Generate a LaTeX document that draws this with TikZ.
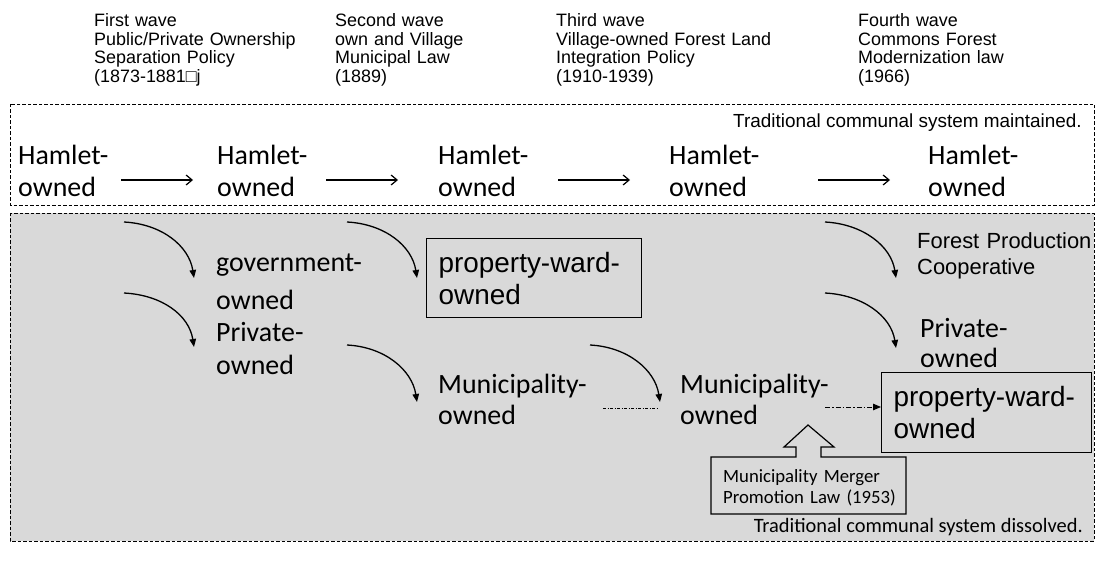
\documentclass[tikz,border=0pt]{standalone}
\usepackage{fontspec}
\setmainfont{Liberation Sans}
\newfontfamily\calfont{Carlito}
\usetikzlibrary{arrows.meta}
\definecolor{panelgray}{HTML}{D9D9D9}
\begin{document}
\begin{tikzpicture}[x=1bp,y=-1bp,
  hdr/.style={anchor=base west, inner sep=0, text width=250bp, align=left, font=\fontsize{18}{18.5}\selectfont},
  big/.style={anchor=base west, inner sep=0, text width=190bp, align=left, font=\calfont\fontsize{28}{32}\selectfont},
  mid/.style={anchor=base west, inner sep=0, text width=190bp, align=left, font=\fontsize{22}{26}\selectfont},
  wardbox/.style={draw, line width=1.3bp, anchor=north west, inner xsep=12bp, inner ysep=2bp, align=left, font=\fontsize{28}{32}\selectfont},
  dashbox/.style={draw, line width=0.8bp, dash pattern=on 3.5bp off 2bp},
  flowarrow/.style={line width=1.2bp, -{Straight Barb[length=6bp,width=10bp,line width=1.2bp]}},
  bendarrow/.style={line width=1.3bp, -{Triangle[length=8bp,width=6.5bp]}},
  dotline/.style={line width=1bp, dash pattern=on 3bp off 1.5bp on 1bp off 1.5bp},
  dotarrow/.style={line width=1bp, dash pattern=on 5bp off 2bp on 1.5bp off 2bp, -{Triangle[length=8bp,width=6.5bp]}},
]
\useasboundingbox (0,0) rectangle (1096,568);

% panels
\draw[dashbox] (10,104) rectangle (1094,205);
\draw[dashbox, fill=panelgray] (10,213) rectangle (1094,541);

% headers
\node[hdr] (w1) at (94,27) {First wave\\Public/Private Ownership\\Separation Policy\\(1873-1881□j};
\node[hdr] (w2) at (335,27) {Second wave\\own and Village\\Municipal Law\\(1889)};
\node[hdr] (w3) at (556,27) {Third wave\\Village-owned Forest Land\\Integration Policy\\(1910-1939)};
\node[hdr] (w4) at (858,27) {Fourth wave\\Commons Forest\\Modernization law\\(1966)};

\node[anchor=base east, inner sep=0, font=\fontsize{19}{22}\selectfont] (keep) at (1082,128) {Traditional communal system maintained.};

% hamlet row
\node[big] (h1) at (18,165) {Hamlet-\\owned};
\node[big] (h2) at (217,165) {Hamlet-\\owned};
\node[big] (h3) at (438,165) {Hamlet-\\owned};
\node[big] (h4) at (669,165) {Hamlet-\\owned};
\node[big] (h5) at (928,165) {Hamlet-\\owned};

\coordinate (h1o) at (121,180); \coordinate (h2i) at (193,180);
\coordinate (h2o) at (326,180); \coordinate (h3i) at (398,180);
\coordinate (h3o) at (558,180); \coordinate (h4i) at (630,180);
\coordinate (h4o) at (818,180); \coordinate (h5i) at (890,180);
\draw[flowarrow] (h1o) -- (h2i);
\draw[flowarrow] (h2o) -- (h3i);
\draw[flowarrow] (h3o) -- (h4i);
\draw[flowarrow] (h4o) -- (h5i);

% lower panel nodes
\node[big, font=\calfont\fontsize{28}{38}\selectfont] (gov) at (216,272) {government-\\owned};
\node[big, font=\calfont\fontsize{28}{34}\selectfont] (privL) at (216,341) {Private-\\owned};
\node[wardbox, text width=191bp, minimum height=79bp] (ward1) at (426,238) {property-ward-\\owned};
\node[big] (mun1) at (438,393) {Municipality-\\owned};
\node[big] (mun2) at (680,393) {Municipality-\\owned};
\node[mid] (forest) at (917,249) {Forest Production\\Cooperative};
\node[big, font=\calfont\fontsize{28}{31}\selectfont] (privR) at (920,337) {Private-\\owned};
\node[wardbox, text width=186bp, minimum height=80bp] (ward2) at (881,372) {property-ward-\\owned};

% curved arrows
\coordinate (a1s) at (124,222); \coordinate (a1e) at (194,278);
\coordinate (a2s) at (124,293); \coordinate (a2e) at (194,347);
\coordinate (a3s) at (347,222); \coordinate (a3e) at (417,278);
\coordinate (a4s) at (347,345); \coordinate (a4e) at (417,402);
\coordinate (a5s) at (590,345); \coordinate (a5e) at (660,402);
\coordinate (a6s) at (825,222); \coordinate (a6e) at (896,278);
\coordinate (a7s) at (825,293); \coordinate (a7e) at (896,348);
\foreach \s/\e in {a1s/a1e,a2s/a2e,a3s/a3e,a4s/a4e,a5s/a5e,a6s/a6e,a7s/a7e}
  \draw[bendarrow] (\s) .. controls +(38,2) and +(-5,-32) .. (\e);

% dashed connectors
\coordinate (d1s) at (603,408); \coordinate (d1e) at (657,408);
\draw[dotline] (d1s) -- (d1e);
\coordinate (d2s) at (825,407);
\draw[dotarrow] (d2s) -- (d2s -| ward2.west);

% callout with up arrow
\draw[line width=1.2bp, fill=panelgray] (711,457) -- (796,457) -- (796,447) -- (784,447) -- (808,425)
  -- (834,447) -- (821,447) -- (821,457) -- (906,457) -- (906,514) -- (711,514) -- cycle;
\node[anchor=base west, inner sep=0, text width=180bp, align=left, font=\calfont\fontsize{18.8}{21.5}\selectfont] (merger) at (723,482) {Municipality Merger\\Promotion Law (1953)};

\node[anchor=base east, inner sep=0, font=\calfont\fontsize{20.5}{24}\selectfont] (gone) at (1083,532) {Traditional communal system dissolved.};
\end{tikzpicture}
\end{document}
